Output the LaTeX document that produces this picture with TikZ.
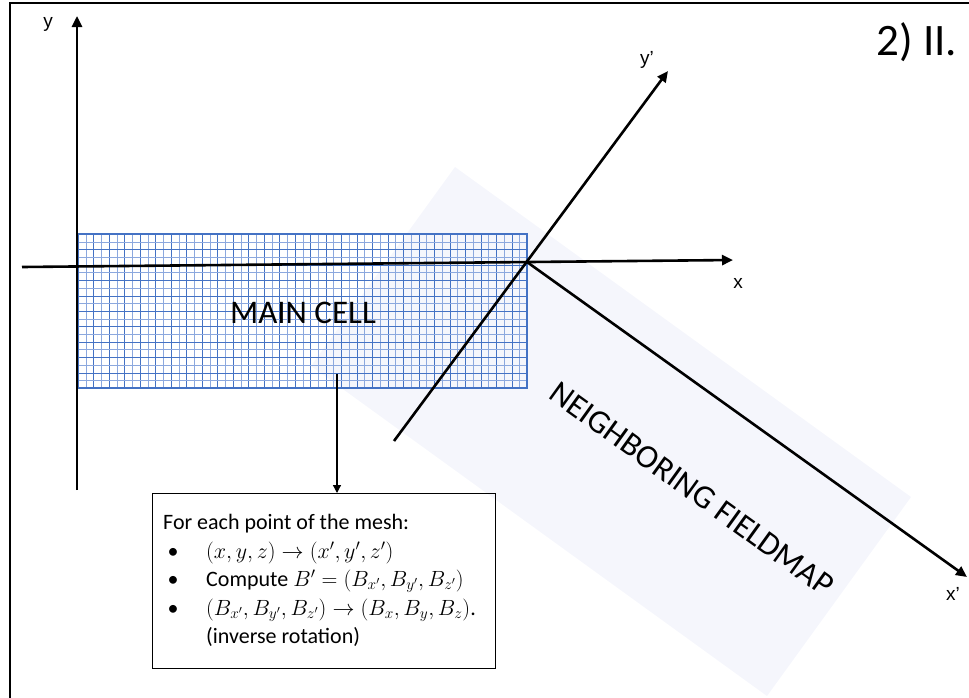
\documentclass[tikz,border=0pt]{standalone}
\usepackage{fix-cm}
\usepackage{fontspec}
\setmainfont{Carlito}
\newfontfamily\arialf{Liberation Sans}
\usetikzlibrary{arrows.meta}
\definecolor{lav}{RGB}{245,246,252}
\definecolor{griddark}{RGB}{68,114,196}
\definecolor{gridlight}{RGB}{140,168,222}
\tikzset{
  axis/.style={line width=2.6pt,-{Triangle[length=11pt,width=10pt]}},
  axlabel/.style={font=\arialf\fontsize{19}{19}\selectfont, inner sep=0pt},
  bigtext/.style={font=\fontsize{33}{33}\selectfont, inner sep=0pt},
  txt/.style={font=\fontsize{22}{26}\selectfont, inner sep=0pt},
  frame/.style={line width=1.5pt},
}
\begin{document}
\begin{tikzpicture}[x=1pt,y=-1pt]
\useasboundingbox (0,0) rectangle (969,697);
\clip (0,0) rectangle (969,697);
% outer frame (right and bottom sides fall outside the page)
\draw[frame] (10,3) rectangle (1000,720);
% neighboring fieldmap (rotated rectangle)
\coordinate (n1) at (455,167);
\coordinate (n2) at (911,497);
\coordinate (n3) at (767,696);
\coordinate (n4) at (311,366);
\fill[lav] (n1) -- (n2) -- (n3) -- (n4) -- cycle;
% mesh grid of the main cell (lines snapped to whole pixels)
\foreach \i in {0,...,58}{
  \pgfmathtruncatemacro\pp{mod(\i,2)}
  \pgfmathsetmacro\gx{round(78+\i*7.7414)+0.5}
  \ifnum\pp=0 \def\gc{griddark}\else\def\gc{gridlight}\fi
  \draw[\gc, line width=1pt] (\gx,234) -- (\gx,388);
}
\foreach \j in {0,...,20}{
  \pgfmathtruncatemacro\pp{mod(\j,2)}
  \pgfmathsetmacro\gy{round(234+\j*7.7)+0.5}
  \ifnum\pp=0 \def\gc{griddark}\else\def\gc{gridlight}\fi
  \draw[\gc, line width=1pt] (78,\gy) -- (527,\gy);
}
\coordinate (c1) at (78,234);
\coordinate (c2) at (527,388);
\draw[griddark, line width=1.5pt] (c1) rectangle (c2);
% axes
\coordinate (O) at (527,262);
\coordinate (yb) at (77,490);
\coordinate (yt) at (77,16);
\coordinate (xl) at (22,267);
\coordinate (xr) at (733,260);
\coordinate (ypb) at (394,441);
\coordinate (ypt) at (668,71);
\coordinate (xpt) at (967,577);
\draw[axis] (yb) -- (yt);
\draw[axis] (xl) -- (xr);
\draw[axis] (ypb) -- (ypt);
\draw[axis] (O) -- (xpt);
\node[axlabel] (ylab) at (48,24) {y};
\node[axlabel] (xlab) at (738,283) {x};
\node[axlabel] (yplab) at (647,60) {y’};
\node[axlabel] (xplab) at (953,594) {x’};
% titles
\node[font=\fontsize{45}{45}\selectfont, inner sep=0pt] (title) at (917,42) {2) II.};
\node[bigtext] (main) at (303,313) {MAIN CELL};
\node[bigtext, rotate=-35.8] (neigh) at (692,489) {NEIGHBORING FIELDMAP};
% box
\node[draw, line width=1.2pt, minimum width=343pt, minimum height=175pt, anchor=north west, inner sep=0pt] (box) at (152,493) {};
\node[txt, anchor=base west] (l1) at (163,529) {For each point of the mesh:};
\node[txt, anchor=base] (b1) at (173,558) {•};
\node[txt, anchor=base west] (l2) at (206,558) {$(x,y,z)\rightarrow(x',y',z')$};
\node[txt, anchor=base] (b2) at (173,586) {•};
\node[txt, anchor=base west] (l3) at (206,586) {Compute $B'=\left(B_{x'},B_{y'},B_{z'}\vphantom{\Big|}\right)$};
\node[txt, anchor=base] (b3) at (173,615) {•};
\node[txt, anchor=base west] (l4) at (206,615) {$\left(B_{x'},B_{y'},B_{z'}\vphantom{\Big|}\right)\rightarrow(B_x,B_y,B_z)$.};
\node[txt, anchor=base west] (l5) at (206,643) {(inverse rotation)};
% arrow from the mesh to the box
\coordinate (as) at (337,374);
\draw[line width=1.2pt, -{Triangle[length=8pt,width=8pt]}] (as) -- (as |- box.north);
\end{tikzpicture}
\end{document}
